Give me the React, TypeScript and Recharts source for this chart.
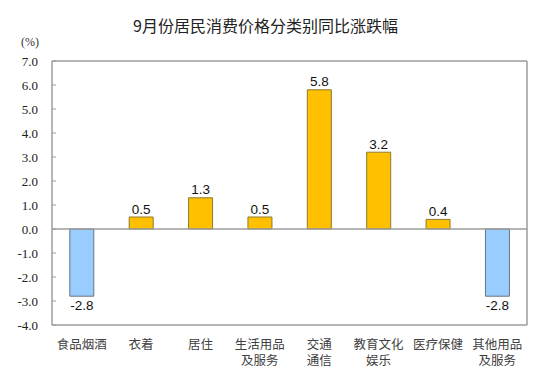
import React from 'react'
import { BarChart, Bar, XAxis, YAxis, Cell, LabelList, ReferenceLine, CartesianGrid } from 'recharts'

const categories = [
  '食品烟酒', '衣着', '居住', '生活用品\n及服务', '交通\n通信', '教育文化\n娱乐', '医疗保健', '其他用品\n及服务',
]
const changes = [-2.8, 0.5, 1.3, 0.5, 5.8, 3.2, 0.4, -2.8]
const yTicks = [-4, -3, -2, -1, 0, 1, 2, 3, 4, 5, 6, 7]

const data = categories.map((name, i) => ({ name, value: changes[i] }))

const AXIS_GRAY = '#9c9c9c'

function YTick(props: any) {
  const { x, y, payload } = props
  return (
    <g>
      <line x1={x} x2={x + 4} y1={y} y2={y} stroke={AXIS_GRAY} />
      <text x={x - 14} y={y} dy={4.5} textAnchor="end" fontFamily="'Liberation Serif', serif" fontSize={13} fill="#222">
        {Number(payload.value).toFixed(1)}
      </text>
    </g>
  )
}

function XTick(props: any) {
  const { x, y, payload } = props
  const lines = String(payload.value).split('\n')
  return (
    <text x={x} y={y} textAnchor="middle" fontFamily="'Noto Sans CJK SC', sans-serif" fontSize={12.5} fill="#404040">
      {lines.map((l, i) => (
        <tspan key={i} x={x} dy={i === 0 ? 16 : 15.5}>{l}</tspan>
      ))}
    </text>
  )
}

function ValueLabel(props: any) {
  const { x, y, width, height, value } = props
  const top = Math.min(y, y + height)
  const bottom = Math.max(y, y + height)
  const ty = value >= 0 ? top - 3.5 : bottom + 14
  return (
    <text x={x + width / 2} y={ty} textAnchor="middle" fontFamily="'Liberation Sans', Arial, sans-serif" fontSize={13.5} fill="#111">
      {Number(value).toFixed(1)}
    </text>
  )
}

export default function App() {
  return (
    <div style={{ position: 'relative', width: 547, height: 380, background: '#fff' }}>
      <style>{'body{margin:0}'}</style>
      <div style={{ position: 'absolute', left: 0, width: 531, top: 14, textAlign: 'center', fontFamily: "'Noto Sans CJK SC', sans-serif", fontSize: 16, color: '#222', lineHeight: '22px' }}>
        9月份居民消费价格分类别同比涨跌幅
      </div>
      <div style={{ position: 'absolute', left: 21, top: 35, fontFamily: "'Liberation Serif', serif", fontSize: 12, color: '#333' }}>
        (%)
      </div>
      <BarChart
        width={547}
        height={380}
        data={data}
        margin={{ top: 61, right: 20, bottom: 0, left: 0 }}
        barCategoryGap="30%"
      >
        <CartesianGrid
          stroke={AXIS_GRAY}
          strokeWidth={1.5}
          horizontalCoordinatesGenerator={({ offset }: any) => [offset.top]}
          verticalCoordinatesGenerator={({ offset }: any) => [offset.left + offset.width]}
        />
        <XAxis
          dataKey="name"
          interval={0}
          height={55}
          tick={<XTick />}
          tickLine={false}
          axisLine={{ stroke: AXIS_GRAY, strokeWidth: 1.5 }}
        />
        <YAxis
          domain={[-4, 7]}
          ticks={yTicks}
          width={52}
          tickSize={0}
          tickMargin={0}
          tick={<YTick />}
          axisLine={{ stroke: AXIS_GRAY, strokeWidth: 1.5 }}
          allowDataOverflow
        />
        <ReferenceLine y={0} stroke={AXIS_GRAY} strokeWidth={1.5} />
        <Bar dataKey="value" isAnimationActive={false}>
          {data.map((d, i) => (
            <Cell
              key={i}
              fill={d.value >= 0 ? '#ffc000' : '#99ccff'}
              stroke={d.value >= 0 ? '#8c7a2e' : '#6b7380'}
              strokeWidth={1}
            />
          ))}
          <LabelList dataKey="value" content={<ValueLabel />} />
        </Bar>
      </BarChart>
    </div>
  )
}
